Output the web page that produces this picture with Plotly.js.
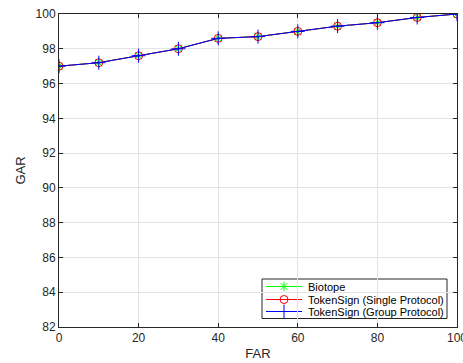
<!DOCTYPE html>
<html>
<head>
<meta charset="utf-8">
<script src="https://cdn.plot.ly/plotly-3.0.1.min.js"></script>
<style>html,body{margin:0;padding:0;background:#fff;}#chart{width:463px;height:363px;}</style>
</head>
<body>
<div id="chart"></div>
<script>
const far = [0, 10, 20, 30, 40, 50, 60, 70, 80, 90, 100];
const garBiotope = [97.0, 97.2, 97.6, 98.0, 98.6, 98.7, 99.0, 99.3, 99.5, 99.8, 100.0];
const garSingle = [97.0, 97.2, 97.6, 98.0, 98.6, 98.7, 99.0, 99.3, 99.5, 99.8, 100.0];
const garGroup = [97.0, 97.2, 97.6, 98.0, 98.6, 98.7, 99.0, 99.3, 99.5, 99.8, 100.0];
const seriesNames = ["Biotope", "TokenSign (Single Protocol)", "TokenSign (Group Protocol)"];
const xTicks = [0, 20, 40, 60, 80, 100];
const yTicks = [82, 84, 86, 88, 90, 92, 94, 96, 98, 100];

const FAM = "Liberation Sans, Arial, sans-serif";
const styles = [
  {color: "#00ff00", symbol: "asterisk-open", size: 8},
  {color: "#ff0000", symbol: "circle-open", size: 8},
  {color: "#0000ff", symbol: "cross-thin-open", size: 10}
];
const seriesY = [garBiotope, garSingle, garGroup];

const traces = seriesY.map((ys, i) => ({
  x: far, y: ys, name: seriesNames[i], mode: "lines+markers", showlegend: false,
  line: {color: styles[i].color, width: 1},
  marker: {symbol: styles[i].symbol, size: styles[i].size, color: styles[i].color,
           line: {color: styles[i].color, width: 1}}
}));

// Compact legend drawn in a pixel-space overlay axis (x2/y2)
const W = 463, H = 363, M = {l: 59, r: 6, t: 14, b: 36};
const leg = {x0: 262, x1: 447, y0: 279, y1: 318.5, lineX0: 266, lineX1: 302, textX: 306, rows: [286.5, 299.5, 311.5]};
const legendShapes = [{type: "rect", xref: "x2", yref: "y2", x0: leg.x0, x1: leg.x1, y0: leg.y0, y1: leg.y1,
  fillcolor: "#ffffff", line: {color: "#262626", width: 1}, layer: "below"}];
const legendAnn = [];
seriesNames.forEach((nm, i) => {
  legendShapes.push({type: "line", xref: "x2", yref: "y2", x0: leg.lineX0, x1: leg.lineX1,
    y0: leg.rows[i], y1: leg.rows[i], line: {color: styles[i].color, width: 1}, layer: "below"});
  legendAnn.push({xref: "x2", yref: "y2", x: leg.textX, y: leg.rows[i], text: nm, showarrow: false,
    xanchor: "left", yanchor: "middle", font: {family: FAM, size: 11, color: "#000000"}});
  traces.push({x: [(leg.lineX0 + leg.lineX1) / 2], y: [leg.rows[i]], xaxis: "x2", yaxis: "y2",
    mode: "markers", showlegend: false, hoverinfo: "skip",
    marker: {symbol: styles[i].symbol, size: styles[i].size, color: styles[i].color,
             line: {color: styles[i].color, width: 1}}});
});

const tickFont = {family: FAM, size: 12, color: "#262626"};
const axisCommon = {
  showline: true, linecolor: "#262626", linewidth: 1, mirror: "ticks",
  ticks: "inside", ticklen: 4, tickcolor: "#262626", tickwidth: 1,
  showgrid: true, gridcolor: "#e3e3e3", gridwidth: 1, zeroline: false,
  tickfont: tickFont, ticklabeloverflow: "allow"
};
const layout = {
  width: W, height: H,
  margin: M,
  paper_bgcolor: "#ffffff", plot_bgcolor: "#ffffff",
  font: tickFont,
  showlegend: false,
  xaxis: Object.assign({}, axisCommon, {range: [0, 100], tickvals: xTicks,
         title: {text: "FAR", font: {family: FAM, size: 13, color: "#262626"}, standoff: 4}}),
  yaxis: Object.assign({}, axisCommon, {range: [82, 100], tickvals: yTicks,
         title: {text: "GAR", font: {family: FAM, size: 13, color: "#262626"}, standoff: 7}}),
  xaxis2: {overlaying: "x", range: [M.l, W - M.r], visible: false, fixedrange: true},
  yaxis2: {overlaying: "y", range: [H - M.b, M.t], visible: false, fixedrange: true},
  shapes: legendShapes,
  annotations: legendAnn
};
Plotly.newPlot("chart", traces, layout, {displayModeBar: false, staticPlot: true});
</script>
</body>
</html>
